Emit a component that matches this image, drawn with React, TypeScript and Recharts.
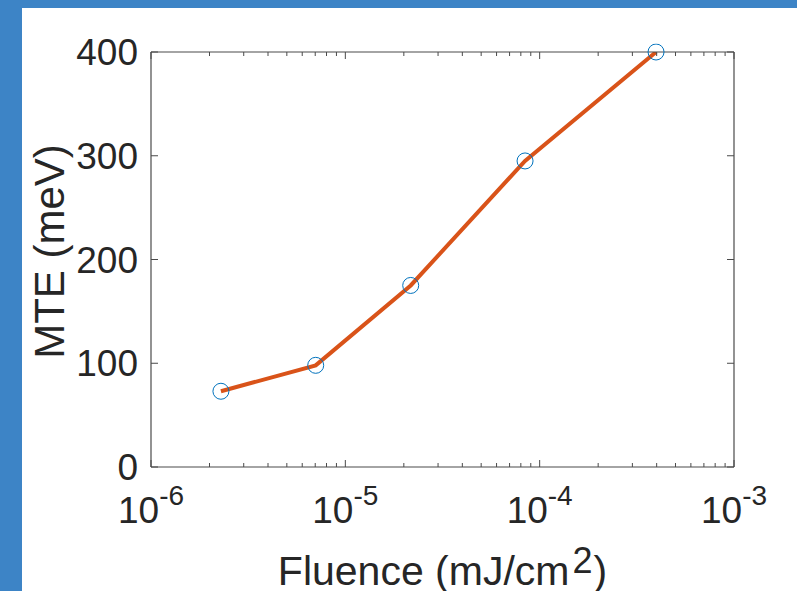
import { Label, Line, LineChart, XAxis, YAxis } from "recharts";

const fluence = [2.29e-6, 7.04e-6, 2.17e-5, 8.41e-5, 3.97e-4];
const mte = [73, 98, 175, 295, 400];
const decadeTicks = [1e-6, 1e-5, 1e-4, 1e-3];
const minorSteps = [2, 3, 4, 5, 6, 7, 8, 9];
const yTicks = [0, 100, 200, 300, 400];

const data = fluence.map((x, i) => ({ x, mte: mte[i] }));

const xTicks = [
  ...decadeTicks,
  ...decadeTicks.slice(0, -1).flatMap((d) => minorSteps.map((m) => d * m)),
].sort((a, b) => a - b);

const FONT = "'Liberation Sans', Arial, sans-serif";
const TEXT = "#262626";
const AXIS = "#4a4a4a";

const isDecade = (v: number) => {
  const e = Math.round(Math.log10(v));
  return Math.abs(v - Math.pow(10, e)) / v < 1e-6;
};

function BottomTick(props: any) {
  const { x, y, payload } = props;
  const v = payload.value;
  const major = isDecade(v);
  const exp = Math.round(Math.log10(v));
  return (
    <g>
      <line x1={x} x2={x} y1={y} y2={y - (major ? 7 : 4)} stroke={AXIS} strokeWidth={1} />
      {major && (
        <text x={x} y={y + 56} textAnchor="middle" fill={TEXT} fontSize={37} fontFamily={FONT}>
          <tspan>10</tspan>
          <tspan dy={-18} fontSize={28}>{exp}</tspan>
        </text>
      )}
    </g>
  );
}

function TopTick(props: any) {
  const { x, y, payload } = props;
  const major = isDecade(payload.value);
  return <line x1={x} x2={x} y1={y} y2={y + (major ? 7 : 4)} stroke={AXIS} strokeWidth={1} />;
}

function LeftTick(props: any) {
  const { x, y, payload } = props;
  return (
    <g>
      <line x1={x} x2={x + 7} y1={y} y2={y} stroke={AXIS} strokeWidth={1} />
      <text x={x - 13} y={y + 13} textAnchor="end" fill={TEXT} fontSize={37} fontFamily={FONT}>
        {payload.value}
      </text>
    </g>
  );
}

function RightTick(props: any) {
  const { x, y } = props;
  return <line x1={x} x2={x - 7} y1={y} y2={y} stroke={AXIS} strokeWidth={1} />;
}

function XTitle(props: any) {
  const vb = props.viewBox;
  const cx = vb.x + vb.width / 2;
  return (
    <text x={cx} y={585} textAnchor="middle" fill={TEXT} fontSize={41} fontFamily={FONT}>
      <tspan>Fluence (mJ/cm</tspan>
      <tspan dx={3} dy={-12} fontSize={36}>2</tspan>
      <tspan dx={1} dy={12}>)</tspan>
    </text>
  );
}

function YTitle(props: any) {
  const vb = props.viewBox;
  const cy = vb.y + vb.height / 2 - 8;
  return (
    <text
      x={64}
      y={cy}
      transform={`rotate(-90, 64, ${cy})`}
      textAnchor="middle"
      fill={TEXT}
      fontSize={42}
      fontFamily={FONT}
    >
      MTE (meV)
    </text>
  );
}

export default function App() {
  return (
    <div style={{ position: "fixed", left: 0, top: 0, width: 797, height: 591, background: "#3d84c6" }}>
      <div style={{ position: "absolute", left: 22, top: 8, right: 0, bottom: 0, background: "#ffffff" }} />
      <div style={{ position: "absolute", left: 0, top: 0 }}>
        <LineChart width={797} height={591} data={data} margin={{ top: 0, right: 0, left: 0, bottom: 0 }}>
          <XAxis
            xAxisId="bottom"
            dataKey="x"
            type="number"
            scale="log"
            domain={[1e-6, 1e-3]}
            allowDataOverflow
            ticks={xTicks}
            interval={0}
            height={124}
            tickSize={0}
            tickMargin={0}
            tick={<BottomTick />}
            axisLine={{ stroke: AXIS, strokeWidth: 1.2 }}
          >
            <Label content={<XTitle />} />
          </XAxis>
          <XAxis
            xAxisId="top"
            orientation="top"
            dataKey="x"
            type="number"
            scale="log"
            domain={[1e-6, 1e-3]}
            allowDataOverflow
            ticks={xTicks}
            interval={0}
            height={52}
            tickSize={0}
            tickMargin={0}
            tick={<TopTick />}
            axisLine={{ stroke: AXIS, strokeWidth: 1.2 }}
          />
          <YAxis
            yAxisId="left"
            type="number"
            domain={[0, 400]}
            allowDataOverflow
            ticks={yTicks}
            interval={0}
            width={151}
            tickSize={0}
            tickMargin={0}
            tick={<LeftTick />}
            axisLine={{ stroke: AXIS, strokeWidth: 1.2 }}
          >
            <Label content={<YTitle />} />
          </YAxis>
          <YAxis
            yAxisId="right"
            orientation="right"
            type="number"
            domain={[0, 400]}
            allowDataOverflow
            ticks={yTicks}
            interval={0}
            width={63}
            tickSize={0}
            tickMargin={0}
            tick={<RightTick />}
            axisLine={{ stroke: AXIS, strokeWidth: 1.2 }}
          />
          <Line
            xAxisId="bottom"
            yAxisId="left"
            dataKey="mte"
            stroke="none"
            dot={{ r: 8, stroke: "#0072BD", strokeWidth: 1, fill: "none", clipDot: false }}
            activeDot={false}
            isAnimationActive={false}
          />
          <Line
            xAxisId="bottom"
            yAxisId="left"
            dataKey="mte"
            stroke="#D95319"
            strokeWidth={4}
            dot={false}
            activeDot={false}
            isAnimationActive={false}
          />
        </LineChart>
      </div>
    </div>
  );
}
